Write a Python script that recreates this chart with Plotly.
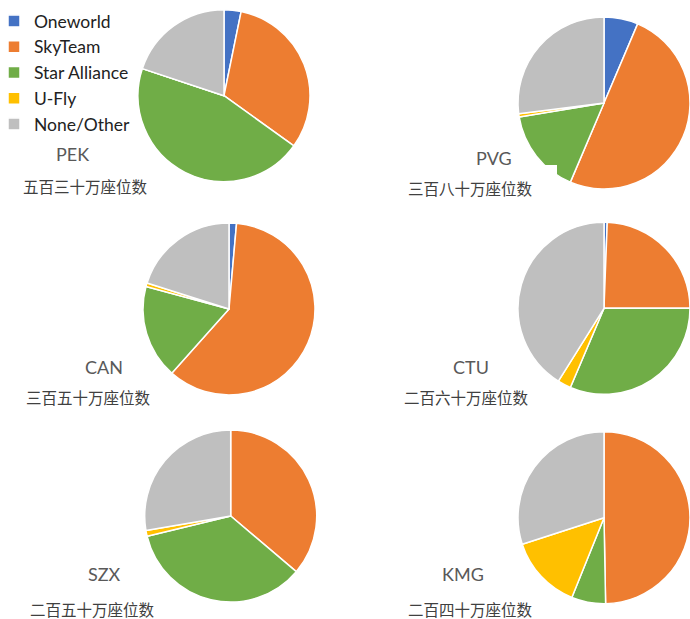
import plotly.graph_objects as go

W, H = 690, 619

alliances = ["Oneworld", "SkyTeam", "Star Alliance", "U-Fly", "None/Other"]
colors = ["#4472C4", "#ED7D31", "#70AD47", "#FFC000", "#BFBFBF"]

airports = ["PEK", "PVG", "CAN", "CTU", "SZX", "KMG"]
seat_labels = ["五百三十万座位数", "三百八十万座位数", "三百五十万座位数",
               "二百六十万座位数", "二百五十万座位数", "二百四十万座位数"]

pek = [3.2, 31.7, 45.2, 0.0, 19.9]
pvg = [6.4, 50.0, 16.0, 0.6, 27.0]
can = [1.4, 60.2, 17.6, 0.7, 20.1]
ctu = [0.6, 24.4, 31.4, 2.5, 41.1]
szx = [0.0, 36.2, 35.0, 1.1, 27.7]
kmg = [0.0, 49.7, 6.4, 13.9, 30.0]
shares = [pek, pvg, can, ctu, szx, kmg]

# layout: pie boxes in pixels (x0, x1, y0_top, y1_top)
boxes = [
    (138, 310, 9.7, 181.7),
    (518, 690, 17, 189),
    (143, 315, 223, 395),
    (518, 690, 222.3, 394.3),
    (144.7, 316.7, 430, 602),
    (518, 690, 431.7, 603.7),
]
name_pos = [(72, 154), (494, 158), (104, 367), (471, 367), (104, 574), (463, 574)]
seat_pos = [(85, 186.5), (470, 188), (88, 397), (466, 397), (92, 609), (470, 609)]


def px(x):
    return x / W


def py(y):
    return 1 - y / H


fig = go.Figure()
for i, (ap, vals) in enumerate(zip(airports, shares)):
    x0, x1, y0, y1 = boxes[i]
    fig.add_trace(go.Pie(
        labels=alliances,
        values=vals,
        name=ap,
        sort=False,
        direction="clockwise",
        rotation=0,
        textinfo="none",
        hoverinfo="label+percent",
        marker=dict(colors=colors, line=dict(color="white", width=1.5)),
        domain=dict(x=[max(0, px(x0)), min(1, px(x1))], y=[py(y1), py(y0)]),
        showlegend=(i == 0),
    ))

annotations = []
for ap, (x, y) in zip(airports, name_pos):
    annotations.append(dict(
        text=ap, x=px(x), y=py(y), xref="paper", yref="paper",
        xanchor="center", yanchor="middle", showarrow=False,
        font=dict(family="Lato, Open Sans, sans-serif", size=18, color="#595959"),
    ))
for lab, (x, y) in zip(seat_labels, seat_pos):
    annotations.append(dict(
        text=lab, x=px(x), y=py(y), xref="paper", yref="paper",
        xanchor="center", yanchor="middle", showarrow=False,
        font=dict(family="Noto Sans CJK SC", size=15.5, color="#404040"),
    ))

fig.update_layout(
    width=W, height=H,
    margin=dict(l=0, r=0, t=0, b=0, autoexpand=False),
    paper_bgcolor="white",
    plot_bgcolor="white",
    legend=dict(
        x=-6 / W, y=1 - 3 / H, xanchor="left", yanchor="top",
        font=dict(family="Lato, Open Sans, sans-serif", size=17.5, color="#222222"),
        traceorder="normal",
        bgcolor="rgba(0,0,0,0)",
    ),
    annotations=annotations,
    shapes=[dict(type="rect", xref="paper", yref="paper",
                 x0=px(395), x1=px(557), y0=py(205), y1=py(165),
                 fillcolor="white", line=dict(width=0), layer="above")],
)

fig.write_html("out.html", config={"displayModeBar": False},
               post_script="document.body.style.margin='0px';")
